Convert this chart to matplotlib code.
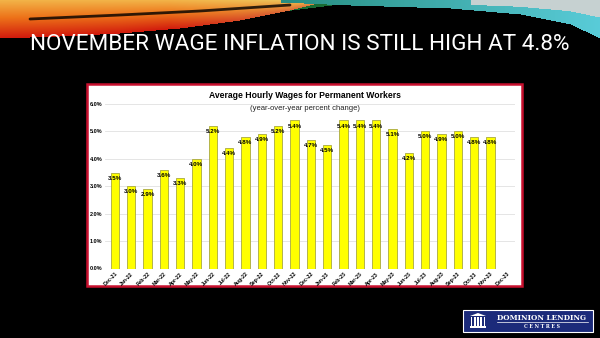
import numpy as np
import matplotlib.pyplot as plt
from matplotlib.patches import Rectangle, Polygon

# monthly wage growth, Dec-21 .. Nov-23 (Dec-23 not yet released)
months = ["Dec-21", "Jan-22", "Feb-22", "Mar-22", "Apr-22", "May-22", "Jun-22",
          "Jul-22", "Aug-22", "Sep-22", "Oct-22", "Nov-22", "Dec-22", "Jan-23",
          "Feb-23", "Mar-23", "Apr-23", "May-23", "Jun-23", "Jul-23", "Aug-23",
          "Sep-23", "Oct-23", "Nov-23", "Dec-23"]
wages = [3.5, 3.0, 2.9, 3.6, 3.3, 4.0, 5.2, 4.4, 4.8, 4.9, 5.2, 5.4,
         4.7, 4.5, 5.4, 5.4, 5.4, 5.1, 4.2, 5.0, 4.9, 5.0, 4.8, 4.8]
yticks = [0, 1, 2, 3, 4, 5, 6]

W, H = 600, 338
fig = plt.figure(figsize=(6, 3.38), dpi=100)
fig.patch.set_facecolor("black")

# ---- slide background (pixel coordinates) ----
bg = fig.add_axes([0, 0, 1, 1], zorder=0)
bg.set_xlim(0, W)
bg.set_ylim(H, 0)
bg.axis("off")

# swoosh at the top of the slide
xx, yy = np.meshgrid(np.arange(W), np.arange(70))
img = np.zeros((70, W, 4))
warm_edge = np.interp(xx, [0, 60, 120, 180, 240, 290, 330], [38, 36, 33, 28, 20, 10, 0])
warm = yy < warm_edge
t = np.clip(yy / np.maximum(warm_edge, 1), 0, 1)[..., None]
top_c = np.array([0.95, 0.70, 0.28])
mid_c = np.array([0.93, 0.45, 0.10])
bot_c = np.array([0.82, 0.10, 0.05])
col = np.where(t < 0.45,
               top_c + (mid_c - top_c) * (t / 0.45),
               mid_c + (bot_c - mid_c) * ((t - 0.45) / 0.55))
# lighter, yellower towards the right end of the warm band
fade = np.clip((xx - 170) / 160, 0, 1)[..., None]
col = col + (np.array([0.90, 0.85, 0.45]) - col) * fade * 0.55
img[warm, :3] = col[warm]
img[warm, 3] = 1.0

green_edge = np.interp(xx, [200, 250, 300, 340], [22, 15, 9, 4])
green = (~warm) & (yy < green_edge) & (xx > 200) & (xx < 345)
img[green, :3] = [0.10, 0.42, 0.20]
img[green, 3] = 1.0

cyan_edge = np.interp(xx, [280, 350, 450, 520, 570, 600], [2, 5, 8, 14, 24, 38])
cyan = (yy < cyan_edge) & (xx > 280)
tc = np.clip((xx - 280) / 320, 0, 1)[..., None]
c0 = np.array([0.15, 0.55, 0.50])
c1 = np.array([0.35, 0.80, 0.85])
ccol = c0 + (c1 - c0) * tc
img[cyan, :3] = ccol[cyan]
img[cyan, 3] = 1.0
light = (yy < cyan_edge * 0.45) & (xx > 470)
img[light, :3] = [0.78, 0.82, 0.82]
bg.imshow(img, extent=[0, W, 70, 0], aspect="auto", interpolation="bilinear")

# dark streak through the warm band
sx = np.linspace(30, 290, 60)
sy = np.interp(sx, [30, 120, 200, 290], [19, 15, 11, 5])
bg.plot(sx, sy, color="black", lw=2.0, alpha=0.8, solid_capstyle="round")

bg.text(W / 2, 45, "NOVEMBER WAGE INFLATION IS STILL HIGH AT 4.8%",
        color="white", fontsize=16.2, ha="center", va="center",
        family=["Liberation Sans Narrow", "Roboto", "DejaVu Sans"])

# white chart card with red border
bg.add_patch(Rectangle((87, 84), 435, 202, facecolor="white",
                       edgecolor="#C8102E", lw=1.8))

# logo in the lower right corner
bg.add_patch(Rectangle((463, 310), 130, 22, facecolor="#1B2A7A",
                       edgecolor="white", lw=0.8))
bg.add_patch(Polygon([[470, 316], [478, 313], [486, 316]], closed=True,
                     facecolor="white", edgecolor="none"))
for cx in np.linspace(471.5, 484.5, 5):
    bg.add_patch(Rectangle((cx - 0.8, 317), 1.6, 9, facecolor="white", edgecolor="none"))
bg.add_patch(Rectangle((470, 326), 16, 1.5, facecolor="white", edgecolor="none"))
bg.text(542, 317.5, "DOMINION LENDING", color="white", fontsize=5.2,
        fontweight="bold", family="DejaVu Serif", ha="center", va="center")
bg.plot([497, 588], [322, 322], color="white", lw=0.5)
bg.text(542, 327, "C E N T R E S", color="white", fontsize=3.4,
        fontweight="bold", family="DejaVu Serif", ha="center", va="center")

# chart titles
bg.text(305, 95, "Average Hourly Wages for Permanent Workers", fontsize=6.2,
        fontweight="bold", ha="center", va="center", family="Liberation Sans",
        zorder=5)
bg.text(305, 108, "(year-over-year percent change)", fontsize=5.5,
        ha="center", va="center", family="Liberation Sans", color="#222222",
        zorder=5)

# ---- bar chart ----
ax = fig.add_axes([105 / W, 1 - 268.5 / H, 410 / W, 164.5 / H], zorder=1)
ax.set_facecolor("none")
x = np.arange(len(wages))
ax.bar(x, wages, width=0.5, color="#FFFF00", edgecolor="#A8A840", lw=0.6, zorder=2)
for xi, v in zip(x, wages):
    ax.annotate(f"{v:.1f}%", (xi, v), xytext=(0, -4), textcoords="offset points",
                ha="center", va="center", fontsize=4.5, fontweight="bold",
                family="Liberation Sans", zorder=3)

ax.set_xlim(-0.6, len(months) - 0.5)
ax.set_ylim(0, 6)
ax.set_yticks(yticks)
ax.set_yticklabels([f"{v:.1f}%" for v in yticks], fontsize=4,
                   family="Liberation Sans", fontweight="bold")
ax.set_xticks(np.arange(len(months)))
ax.set_xticklabels(months, rotation=45, ha="right", rotation_mode="anchor",
                   fontsize=3.8, family="Liberation Sans", fontweight="bold")
ax.tick_params(length=0, pad=2)
ax.grid(axis="y", color="#E0E0E0", lw=0.6, zorder=0)
ax.set_axisbelow(True)
for s in ax.spines.values():
    s.set_visible(False)

fig.savefig("out.png", dpi=100, facecolor="black")
